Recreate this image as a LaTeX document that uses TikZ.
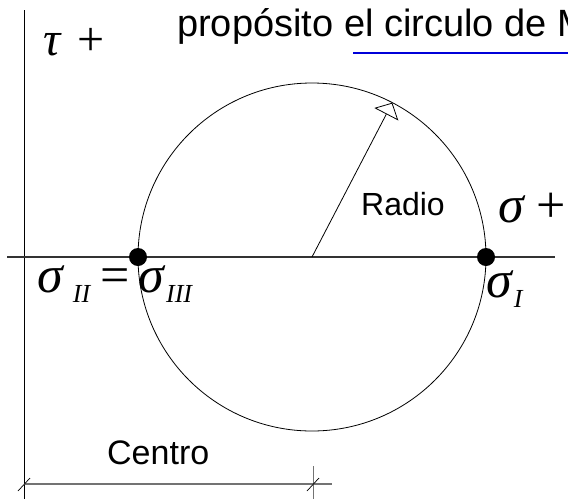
\documentclass[tikz,border=0pt]{standalone}
\usepackage{fontspec}
\setmainfont{Liberation Sans}
\newfontfamily\grfont{Liberation Serif}
\usetikzlibrary{arrows.meta}
\newcommand{\gsig}{{\itshape σ}}
\newcommand{\gsub}[1]{\raisebox{-10pt}{\fontsize{26}{26}\selectfont\itshape #1}}
\tikzset{
  lbl/.style={anchor=base west, inner sep=0pt, font=\fontsize{33}{33}\selectfont},
  grk/.style={anchor=base west, inner sep=0pt, font=\fontsize{52}{52}\selectfont\grfont},
  punto/.style={circle, fill=black, inner sep=0pt, minimum size=18pt},
  cota/.style={draw=black!55, line width=1.5pt},
}
\begin{document}
\begin{tikzpicture}[x=1pt, y=-1pt]
  \useasboundingbox (0,0) rectangle (568,499);
  % texto superior
  \node[lbl, font=\fontsize{38}{38}\selectfont] (texto) at (177,36) {propósito el circulo de M};
  \coordinate (sub1) at (353,53); \coordinate (sub2) at (570,53);
  \draw[blue!85!black, line width=2pt] (sub1) -- (sub2);
  % ejes
  \coordinate (ey1) at (24,10); \coordinate (ey2) at (24,499);
  \coordinate (ex1) at (7,257); \coordinate (ex2) at (555,257);
  \draw[line width=0.8pt] (ey1) -- (ey2);
  \draw[black!80, line width=1.8pt] (ex1) -- (ex2);
  \node[grk, font=\fontsize{48}{48}\selectfont\grfont] (tau) at (43,55) {{\itshape τ}\hspace{17pt}+};
  \node[grk] (sigma) at (498,222) {\gsig\hspace{13pt}+};
  % circulo
  \coordinate (centro) at (312,257);
  \draw[line width=0.8pt] (centro) circle[radius=174];
  \node[punto] (s3) at (138,257) {};
  \node[punto] (s1) at (486,257) {};
  \coordinate (tope) at (392.3,102.7);
  \draw[line width=0.8pt, -{Triangle[open, length=13pt, width=27pt]}] (centro) -- (tope);
  \node[lbl, font=\fontsize{32}{32}\selectfont] (radio) at (361,215) {Radio};
  % tensiones principales
  \node[grk] (s23) at (37,292) {\gsig\hspace{10pt}\gsub{II}\hspace{10pt}=\hspace{9pt}\gsig\hspace{2pt}\gsub{III}};
  \node[grk] (s1t) at (486,297) {\gsig\hspace{2pt}\gsub{I}};
  % cota del centro
  \node[lbl, font=\fontsize{34}{34}\selectfont] (cent) at (107,464) {Centro};
  \coordinate (c1) at (24,484); \coordinate (c2) at (313,484);
  \coordinate (c3) at (332,484);
  \coordinate (t1) at (313,466); \coordinate (t2) at (313,499);
  \draw[cota] (c1) -- (c3);
  \draw[draw=black!55, line width=1pt] (t1) -- (t2);
  \draw[line width=0.7pt] ([shift={(-6,7)}]c1) -- ([shift={(6,-6)}]c1);
  \draw[line width=0.7pt] ([shift={(-6,7)}]c2) -- ([shift={(6,-6)}]c2);
\end{tikzpicture}
\end{document}
